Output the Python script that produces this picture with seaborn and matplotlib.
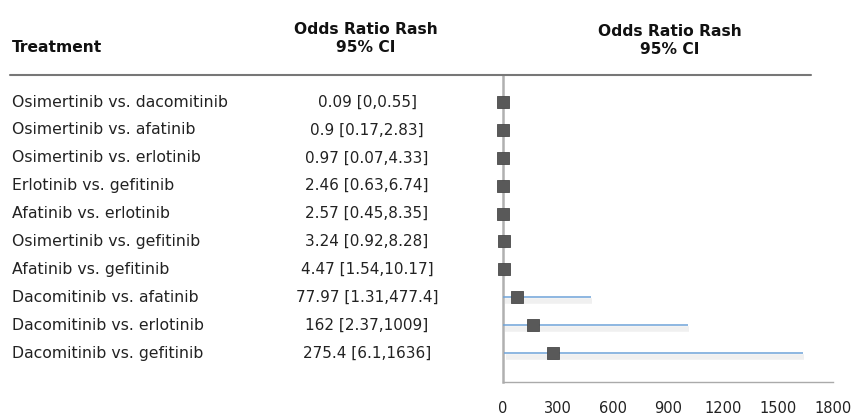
import matplotlib
matplotlib.use("Agg")
import matplotlib.pyplot as plt
import matplotlib.transforms as mtransforms
import matplotlib.patheffects as pe
import seaborn as sns
import pandas as pd

# === Data ===
treatments = [
    "Osimertinib vs. dacomitinib", "Osimertinib vs. afatinib", "Osimertinib vs. erlotinib",
    "Erlotinib vs. gefitinib", "Afatinib vs. erlotinib", "Osimertinib vs. gefitinib",
    "Afatinib vs. gefitinib", "Dacomitinib vs. afatinib", "Dacomitinib vs. erlotinib",
    "Dacomitinib vs. gefitinib",
]
odds_ratio = [0.09, 0.9, 0.97, 2.46, 2.57, 3.24, 4.47, 77.97, 162, 275.4]
ci_low = [0, 0.17, 0.07, 0.63, 0.45, 0.92, 1.54, 1.31, 2.37, 6.1]
ci_high = [0.55, 2.83, 4.33, 6.74, 8.35, 8.28, 10.17, 477.4, 1009, 1636]
ci_labels = [
    "0.09 [0,0.55]", "0.9 [0.17,2.83]", "0.97 [0.07,4.33]", "2.46 [0.63,6.74]",
    "2.57 [0.45,8.35]", "3.24 [0.92,8.28]", "4.47 [1.54,10.17]", "77.97 [1.31,477.4]",
    "162 [2.37,1009]", "275.4 [6.1,1636]",
]
x_ticks = [0, 300, 600, 900, 1200, 1500, 1800]

df = pd.DataFrame({"treatment": treatments, "or": odds_ratio,
                   "lo": ci_low, "hi": ci_high, "label": ci_labels})
df["row"] = range(len(df))

sns.set_style("white")
plt.rcParams["font.family"] = ["DejaVu Sans"]

W, H = 852, 415
fig = plt.figure(figsize=(W / 100, H / 100), dpi=100)
ax = fig.add_axes([503 / W, 1 - 382 / H, (833 - 503) / W, (382 - 75) / H])

# CI lines with a soft grey shadow underneath
shadow = [pe.SimpleLineShadow(offset=(1, -3), shadow_color="#cfcfcf", alpha=0.3, linewidth=4),
          pe.Normal()]
ax.hlines(df["row"], df["lo"], df["hi"], color="#6fa3d8", lw=1.1, path_effects=shadow, zorder=2)
sns.scatterplot(data=df, x="or", y="row", marker="s", s=75, color="#595959",
                edgecolor="#4a4a4a", linewidth=0.6, ax=ax, zorder=3, legend=False,
                clip_on=False)

ax.set_xlim(0, 1800)
ax.set_ylim(10.04, -0.97)
ax.set_xticks(x_ticks)
ax.set_xticklabels([str(t) for t in x_ticks], fontsize=10.5, color="#222222")
ax.set_yticks([])
ax.set_xlabel("")
ax.set_ylabel("")
ax.tick_params(axis="x", direction="out", length=5, color="#999999", pad=9)
for s in ["top", "right"]:
    ax.spines[s].set_visible(False)
ax.spines["left"].set_color("#b0b0b0")
ax.spines["left"].set_linewidth(1.8)
ax.spines["left"].set_zorder(1)
ax.spines["bottom"].set_color("#aaaaaa")
ax.spines["bottom"].set_linewidth(1.0)

# Text columns, aligned to rows
trans = mtransforms.blended_transform_factory(fig.transFigure, ax.transData)
for _, r in df.iterrows():
    fig.text(12 / W, r["row"], r["treatment"], transform=trans, fontsize=11.3,
             ha="left", va="center", color="#222222")
    fig.text(367 / W, r["row"], r["label"], transform=trans, fontsize=11,
             ha="center", va="center", color="#222222")

# Headers
fig.text(12 / W, 1 - 48 / H, "Treatment", fontsize=11.2, fontweight="bold",
         ha="left", va="center", color="#111111")
fig.text(366 / W, 1 - 39 / H, "Odds Ratio Rash\n95% CI", fontsize=11.2, fontweight="bold",
         ha="center", va="center", color="#111111", linespacing=1.25)
fig.text(670 / W, 1 - 41 / H, "Odds Ratio Rash\n95% CI", fontsize=11.2, fontweight="bold",
         ha="center", va="center", color="#111111", linespacing=1.25)

# Header rule
fig.add_artist(plt.Line2D([10 / W, 811 / W], [1 - 75 / H, 1 - 75 / H],
                          transform=fig.transFigure, color="#777777", lw=1.5))

fig.savefig("out.png", dpi=100)
